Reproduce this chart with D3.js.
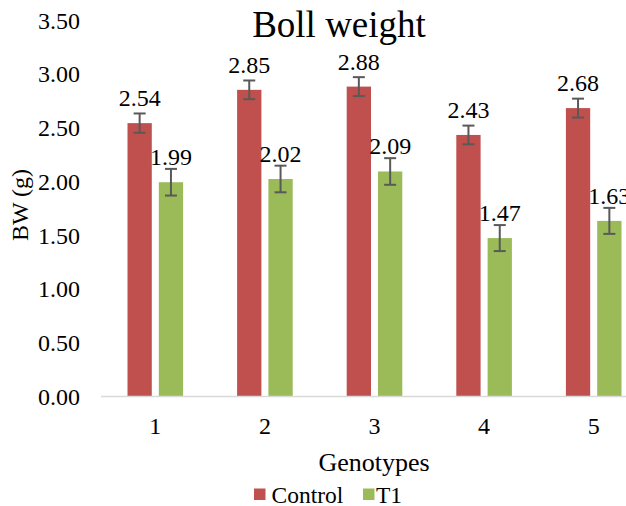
<!DOCTYPE html>
<html><head><meta charset="utf-8">
<script src="https://cdn.jsdelivr.net/npm/d3@7/dist/d3.min.js"></script>
<style>html,body{margin:0;padding:0;background:#fff;overflow:hidden}svg{display:block;font-family:"Liberation Serif","Times New Roman",serif}</style>
</head><body>
<script>
const categories = ["1","2","3","4","5"];
const seriesNames = ["Control","T1"];
const controlValues = [2.54, 2.85, 2.88, 2.43, 2.68];
const t1Values = [1.99, 2.02, 2.09, 1.47, 1.63];
const controlErrors = [0.09, 0.087, 0.088, 0.087, 0.088];
const t1Errors = [0.124, 0.124, 0.124, 0.121, 0.121];
const yTicks = [0, 0.5, 1, 1.5, 2, 2.5, 3, 3.5];
const colors = ["#C0504D", "#9BBB59"];

const FONT = "Liberation Serif";
const W = 626, H = 506;
const svg = d3.select("body").append("svg").attr("width", W).attr("height", H)
  .attr("font-family", FONT);

const x0 = d3.scaleBand().domain(categories).range([100.5, 648.5]).padding(0);
const half = 27.8;
const x1 = d3.scaleBand().domain(seriesNames)
  .range([x0.bandwidth()/2 - half, x0.bandwidth()/2 + half]).paddingInner(0.224);
const y = d3.scaleLinear().domain([0, 3.5]).range([396, 20]);

const data = categories.map((c, i) => ({
  cat: c,
  vals: [
    {s: "Control", v: controlValues[i], e: controlErrors[i], col: colors[0]},
    {s: "T1", v: t1Values[i], e: t1Errors[i], col: colors[1]}
  ]
}));

// title
svg.append("text").attr("x", 339).attr("y", 37).attr("text-anchor", "middle")
  .attr("font-family", FONT).attr("font-size", 37).attr("fill", "#000").text("Boll weight");

// y axis (labels only)
const yAxis = d3.axisLeft(y).tickValues(yTicks).tickFormat(d3.format(".2f")).tickSize(0).tickPadding(0);
const yg = svg.append("g").attr("transform", "translate(80,0)").call(yAxis);
yg.attr("font-family", FONT);
yg.select(".domain").remove();
yg.selectAll("text").attr("font-size", 24).attr("font-family", FONT).attr("fill", "#000").attr("dy", "0.34em");

// y title
svg.append("text").attr("transform", "translate(28,205) rotate(-90)").attr("text-anchor", "middle")
  .attr("font-family", FONT).attr("font-size", 24).attr("fill", "#000").text("BW (g)");

// bars
const groups = svg.selectAll("g.grp").data(data).join("g").attr("class", "grp")
  .attr("transform", d => `translate(${x0(d.cat)},0)`);
groups.selectAll("rect").data(d => d.vals).join("rect")
  .attr("x", d => x1(d.s)).attr("width", x1.bandwidth())
  .attr("y", d => y(d.v)).attr("height", d => y(0) - y(d.v))
  .attr("fill", d => d.col);

// error bars
const eb = groups.selectAll("g.err").data(d => d.vals).join("g").attr("class", "err")
  .attr("stroke", "#595959").attr("stroke-width", 2);
const cx = d => x1(d.s) + x1.bandwidth()/2;
eb.append("line").attr("x1", cx).attr("x2", cx)
  .attr("y1", d => y(d.v + d.e)).attr("y2", d => y(d.v - d.e));
eb.append("line").attr("x1", d => cx(d) - 6).attr("x2", d => cx(d) + 6)
  .attr("y1", d => y(d.v + d.e)).attr("y2", d => y(d.v + d.e));
eb.append("line").attr("x1", d => cx(d) - 6).attr("x2", d => cx(d) + 6)
  .attr("y1", d => y(d.v - d.e)).attr("y2", d => y(d.v - d.e));

// data labels
groups.selectAll("text.lbl").data(d => d.vals).join("text").attr("class", "lbl")
  .attr("x", d => cx(d)).attr("y", d => y(d.v) - 17)
  .attr("text-anchor", "middle").attr("font-family", FONT).attr("font-size", 24).attr("fill", "#000")
  .text(d => d.v.toFixed(2));

// x axis
const xAxis = d3.axisBottom(x0).tickSize(0).tickPadding(0);
const xg = svg.append("g").attr("transform", "translate(0,396)").call(xAxis);
xg.attr("font-family", FONT);
xg.select(".domain").attr("stroke", "#d9d9d9").attr("stroke-width", 1.5);
xg.selectAll("text").attr("font-size", 24).attr("font-family", FONT).attr("fill", "#000")
  .attr("dy", 0).attr("y", 38);

svg.append("text").attr("x", 374).attr("y", 470.5).attr("text-anchor", "middle")
  .attr("font-family", FONT).attr("font-size", 26).attr("fill", "#000").text("Genotypes");

// legend
const legendX = [254, 363];
const legendTextDx = [17.5, 13];
const lg = svg.selectAll("g.leg").data(seriesNames).join("g").attr("class", "leg")
  .attr("transform", (d, i) => `translate(${legendX[i]},0)`);
lg.append("rect").attr("x", 0).attr("y", 488.5).attr("width", 11.5).attr("height", 11.5).attr("fill", (d, i) => colors[i]);
lg.append("text").attr("x", (d, i) => legendTextDx[i]).attr("y", 503).attr("font-family", FONT).attr("font-size", 23.5).attr("fill", "#000").text(d => d);
</script>
</body></html>
